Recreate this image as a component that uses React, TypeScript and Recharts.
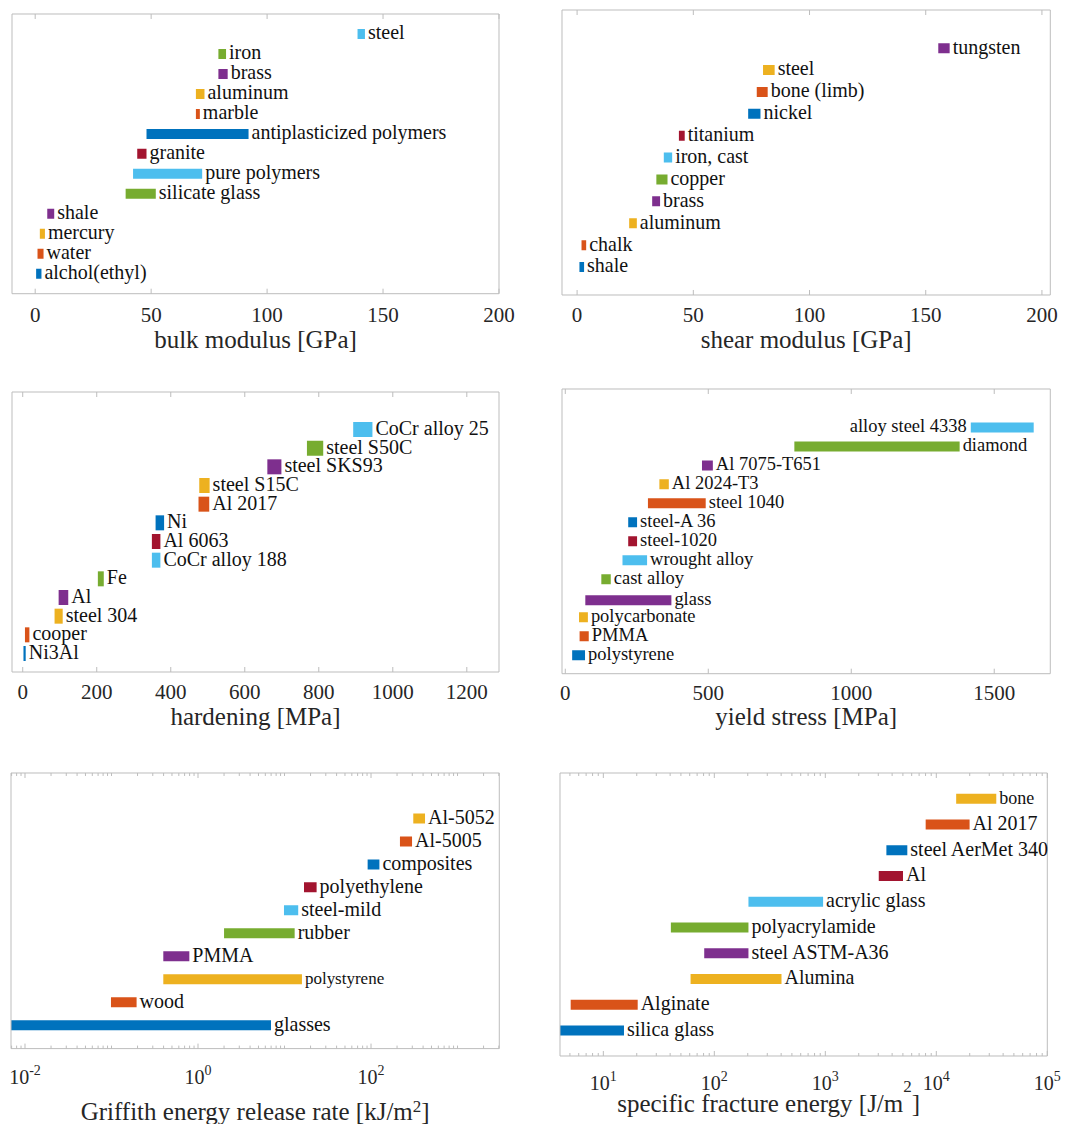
import React from "react";
import { BarChart, Bar, XAxis, YAxis, Cell, LabelList } from "recharts";

// MATLAB default colour order, bars are coloured from the bottom up
const COLORS = ["#0072BD", "#D95319", "#EDB120", "#7E2F8E", "#77AC30", "#4DBEEE", "#A2142F"];
const FONT = "'Liberation Serif', 'Times New Roman', serif";
const FRAME = "#bdbdbd";
const INK = "#262626";

// bulk modulus [GPa] (bottom to top)
const bulkNames = ["alchol(ethyl)", "water", "mercury", "shale", "silicate glass", "pure polymers", "granite", "antiplasticized polymers", "marble", "aluminum", "brass", "iron", "steel"];
const bulkLow = [0.4, 1, 2, 5.2, 39, 42.2, 44, 48, 69.3, 69.3, 79, 79, 139];
const bulkHigh = [2.7, 3.6, 4.2, 8.2, 52, 72, 48, 92, 71, 73, 83, 82.3, 142.2];
const bulkTicks = [0, 50, 100, 150, 200];

// shear modulus [GPa]
const shearNames = ["shale", "chalk", "aluminum", "brass", "copper", "iron, cast", "titanium", "nickel", "bone (limb)", "steel", "tungsten"];
const shearLow = [1, 1.9, 22.4, 32.3, 34.1, 37.3, 43.8, 73.6, 77.3, 80, 155.4];
const shearHigh = [3, 3.9, 25.7, 35.7, 38.9, 40.9, 46.3, 78.9, 82, 85, 160.3];
const shearTicks = [0, 50, 100, 150, 200];

// hardening [MPa]
const hardNames = ["Ni3Al", "cooper", "steel 304", "Al", "Fe", "CoCr alloy 188", "Al 6063", "Ni", "Al 2017", "steel S15C", "steel SKS93", "steel S50C", "CoCr alloy 25"];
const hardLow = [2, 6, 86, 97, 203, 349, 349, 359, 475, 477, 661, 768, 893];
const hardHigh = [8, 18, 108, 123, 219, 372, 372, 382, 504, 505, 699, 812, 945];
const hardTicks = [0, 200, 400, 600, 800, 1000, 1200];

// yield stress [MPa]
const yieldNames = ["polystyrene", "PMMA", "polycarbonate", "glass", "cast alloy", "wrought alloy", "steel-1020", "steel-A 36", "steel 1040", "Al 2024-T3", "Al 7075-T651", "diamond", "alloy steel 4338"];
const yieldPos = [1, 2, 3, 3.9, 5, 6, 7, 8, 9, 10, 11, 12, 13];
const yieldLow = [24, 50, 48, 70, 126, 200, 220, 220, 289, 329, 478, 801, 1418];
const yieldHigh = [69, 82, 79, 371, 159, 286, 251, 251, 491, 362, 516, 1379, 1638];
const yieldTicks = [0, 500, 1000, 1500];

// Griffith energy release rate [kJ/m^2]
const griffNames = ["glasses", "wood", "polystyrene", "PMMA", "rubber", "steel-mild", "polyethylene", "composites", "Al-5005", "Al-5052"];
const griffLow = [0.0069, 0.0986, 0.397, 0.397, 2.0, 9.86, 16.8, 91.4, 216, 308];
const griffHigh = [6.98, 0.195, 15.9, 0.794, 13.1, 14.4, 23.5, 125, 298, 421];
const griffTicks = [0.01, 1, 100];

// specific fracture energy [J/m^2]
const fracNames = ["silica glass", "Alginate", "Alumina", "steel ASTM-A36", "polyacrylamide", "acrylic glass", "Al", "steel AerMet 340", "Al 2017", "bone"];
const fracLow = [4.07, 5.08, 61.1, 81.1, 40.6, 203, 3030, 3550, 8020, 15100];
const fracHigh = [15.35, 20.4, 403, 203, 203, 955, 5010, 5480, 19950, 34700];
const fracTicks = [10, 100, 1000, 10000, 100000];

type Panel = {
  names: string[];
  low: number[];
  high: number[];
  pos?: number[];
  ticks: number[];
  log?: boolean;
  box: { x: number; y: number; w: number; h: number };
  xDomain: [number, number];
  yDomain: [number, number];
  barSize: number;
  labelSize: number;
  smallLabels?: Record<string, number>;
  leftLabels?: string[];
  title: [string, string, string];
  tickDy: number;
  titleDy: number;
  titleDx?: number;
  supDy?: number;
};

const near = (a: number, b: number) => Math.abs(a - b) <= Math.abs(b) * 1e-9;

// minor ticks of a log axis: 1..9 x 10^k, minus the labelled decades
function logMinor(lo: number, hi: number, major: number[]) {
  const out: number[] = [];
  for (let e = Math.floor(Math.log10(lo)); e <= Math.ceil(Math.log10(hi)); e++) {
    for (let m = 1; m <= 9; m++) {
      const v = m * Math.pow(10, e);
      if (v >= lo && v <= hi && !major.some((t) => near(v, t))) out.push(v);
    }
  }
  return out;
}

function AxisTitle(props: any) {
  const { viewBox, p } = props;
  const cx = viewBox.x + viewBox.width / 2 + (p.titleDx || 0);
  const [pre, sup, post] = p.title as [string, string, string];
  const up = p.supDy ?? 8;
  return (
    <text x={cx} y={viewBox.y + p.titleDy} textAnchor="middle" fontFamily={FONT} fontSize={25} fill={INK}>
      {pre}
      {sup ? (
        <>
          <tspan dy={-up} fontSize={17}>{sup}</tspan>
          <tspan dy={up}>{post}</tspan>
        </>
      ) : (
        post
      )}
    </text>
  );
}

function ChartPanel({ p }: { p: Panel }) {
  const rows = p.names.map((name, i) => ({ name, pos: p.pos ? p.pos[i] : i + 1, range: [p.low[i], p.high[i]] }));
  const allTicks = p.log ? [...p.ticks, ...logMinor(p.xDomain[0], p.xDomain[1], p.ticks)].sort((a, b) => a - b) : p.ticks;
  const yTicks = p.names.map((_, i) => i + 1);

  const tick = (top: boolean) => (t: any) => {
    const v = Number(t.payload?.value);
    const major = p.ticks.some((m) => near(v, m));
    const len = major ? 5 : 3;
    const dir = top ? 1 : -1;
    let label: React.ReactNode = null;
    if (!top && major) {
      label = p.log ? (
        <text x={t.x} y={t.y + p.tickDy} textAnchor="middle" fontFamily={FONT} fontSize={20} fill={INK}>
          10
          <tspan dy={-9} fontSize={14}>{String(Math.round(Math.log10(v)))}</tspan>
        </text>
      ) : (
        <text x={t.x} y={t.y + p.tickDy} textAnchor="middle" fontFamily={FONT} fontSize={21} fill={INK}>
          {v}
        </text>
      );
    }
    return (
      <g>
        <line x1={t.x} x2={t.x} y1={t.y} y2={t.y + dir * len} stroke={FRAME} strokeWidth={1} />
        {label}
      </g>
    );
  };

  const barLabel = (l: any) => {
    const vb = l.viewBox ?? l;
    const x = Number(vb.x ?? l.x);
    const y = Number(vb.y ?? l.y);
    const w = Number(vb.width ?? l.width);
    const h = Number(vb.height ?? l.height);
    const name = String(l.value);
    const fs = p.smallLabels?.[name] ?? p.labelSize;
    const left = p.leftLabels?.includes(name);
    return (
      <text
        x={left ? x - 4 : x + w + 3}
        y={y + h / 2 + fs * 0.27}
        textAnchor={left ? "end" : "start"}
        fontFamily={FONT}
        fontSize={fs}
        fill="#111"
      >
        {name}
      </text>
    );
  };

  const axisH = 90;
  return (
    <div style={{ position: "absolute", left: p.box.x - 2, top: p.box.y - 2 }}>
      <BarChart
        width={p.box.w + 43}
        height={p.box.h + 2 + axisH}
        data={rows}
        layout="vertical"
        margin={{ top: 1, left: 1, right: 40, bottom: 0 }}
      >
        <XAxis
          type="number"
          dataKey="range"
          scale={p.log ? "log" : "linear"}
          domain={p.xDomain}
          allowDataOverflow
          ticks={allTicks}
          interval={0}
          height={axisH}
          tickSize={0}
          tickMargin={0}
          tickLine={false}
          axisLine={{ stroke: FRAME }}
          tick={tick(false)}
          label={<AxisTitle p={p} />}
        />
        <XAxis
          xAxisId="top"
          orientation="top"
          type="number"
          scale={p.log ? "log" : "linear"}
          domain={p.xDomain}
          allowDataOverflow
          ticks={allTicks}
          interval={0}
          height={1}
          tickSize={0}
          tickMargin={0}
          tickLine={false}
          axisLine={{ stroke: FRAME }}
          tick={tick(true)}
        />
        <YAxis
          type="number"
          dataKey="pos"
          domain={p.yDomain}
          allowDataOverflow
          reversed
          ticks={yTicks}
          width={1}
          tick={false}
          tickLine={false}
          axisLine={{ stroke: FRAME }}
        />
        <YAxis
          yAxisId="r"
          orientation="right"
          type="number"
          dataKey="pos"
          domain={p.yDomain}
          allowDataOverflow
          reversed
          width={1}
          tick={false}
          tickLine={false}
          axisLine={{ stroke: FRAME }}
        />
        <Bar dataKey="range" barSize={p.barSize} isAnimationActive={false}>
          {rows.map((r, i) => (
            <Cell key={r.name} fill={COLORS[i % COLORS.length]} />
          ))}
          <LabelList dataKey="name" content={barLabel} />
        </Bar>
      </BarChart>
    </div>
  );
}

const panels: Panel[] = [
  {
    names: bulkNames, low: bulkLow, high: bulkHigh, ticks: bulkTicks,
    box: { x: 12.3, y: 14.3, w: 487, h: 279.7 },
    xDomain: [-10, 200], yDomain: [0, 14],
    barSize: 10, labelSize: 20,
    title: ["bulk modulus [GPa]", "", ""], tickDy: 28, titleDy: 54,
  },
  {
    names: shearNames, low: shearLow, high: shearHigh, ticks: shearTicks,
    box: { x: 561.7, y: 10, w: 488.3, h: 285 },
    xDomain: [-6.5, 203.6], yDomain: [-0.28, 12.74],
    barSize: 10, labelSize: 20,
    title: ["shear modulus [GPa]", "", ""], tickDy: 27, titleDy: 53,
  },
  {
    names: hardNames, low: hardLow, high: hardHigh, ticks: hardTicks,
    box: { x: 12.3, y: 392.3, w: 487, h: 280 },
    xDomain: [-29, 1287], yDomain: [0, 15],
    barSize: 15, labelSize: 20,
    title: ["hardening [MPa]", "", ""], tickDy: 27, titleDy: 53,
  },
  {
    names: yieldNames, low: yieldLow, high: yieldHigh, pos: yieldPos, ticks: yieldTicks,
    box: { x: 561.7, y: 389.3, w: 488.3, h: 284.7 },
    xDomain: [-11.5, 1696], yDomain: [0, 15],
    barSize: 10, labelSize: 18.5, leftLabels: ["alloy steel 4338"],
    title: ["yield stress [MPa]", "", ""], tickDy: 26, titleDy: 51,
  },
  {
    names: griffNames, low: griffLow, high: griffHigh, ticks: griffTicks, log: true,
    box: { x: 11, y: 772.7, w: 488.3, h: 275.6 },
    xDomain: [0.00689, 3040], yDomain: [0, 12],
    barSize: 10, labelSize: 20, smallLabels: { polystyrene: 17 },
    title: ["Griffith energy release rate [kJ/m", "2", "]"], tickDy: 35, titleDy: 71.5, supDy: 8,
  },
  {
    names: fracNames, low: fracLow, high: fracHigh, ticks: fracTicks, log: true,
    box: { x: 560, y: 772.7, w: 487.3, h: 283 },
    xDomain: [4.07, 100000], yDomain: [0, 11],
    barSize: 10, labelSize: 20, smallLabels: { bone: 18 },
    title: ["specific fracture energy [J/m", "2", "]"], tickDy: 34.5, titleDy: 56.5, titleDx: -35, supDy: 20,
  },
];

export default function App() {
  return (
    <div style={{ position: "absolute", left: 0, top: 0, width: 1067, height: 1124, background: "#fff" }}>
      {panels.map((p, i) => (
        <ChartPanel key={i} p={p} />
      ))}
    </div>
  );
}
